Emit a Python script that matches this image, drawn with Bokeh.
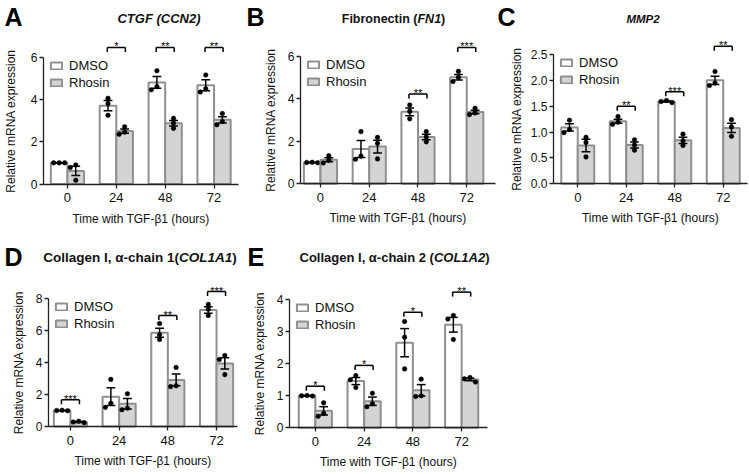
import numpy as np
from bokeh.plotting import figure
from bokeh.models import Range1d, FixedTicker, Label, Legend, LegendItem
from bokeh.layouts import row, column
from bokeh.embed import file_html
from bokeh.resources import INLINE
from bokeh.core.properties import value

# ---------------- data ----------------
hours = ["0", "24", "48", "72"]
x_label = "Time with TGF-β1 (hours)"
y_label = "Relative mRNA expression"
group_names = ["DMSO", "Rhosin"]

# A  CTGF (CCN2)
ctgf_title = [("CTGF (CCN2)", True)]
ctgf_yticks = [0, 2, 4, 6]
ctgf_ylabels = ["0", "2", "4", "6"]
ctgf_dmso_mean = [1.0, 3.7, 4.8, 4.67]
ctgf_dmso_sem = [0.0, 0.24, 0.28, 0.26]
ctgf_dmso_pts = [[1.0, 1.0, 1.0], [4.05, 3.8, 3.25], [5.35, 4.6, 4.45], [5.15, 4.5, 4.35]]
ctgf_rhosin_mean = [0.62, 2.5, 2.87, 3.03]
ctgf_rhosin_sem = [0.22, 0.1, 0.13, 0.15]
ctgf_rhosin_pts = [[0.9, 0.78, 0.18], [2.7, 2.45, 2.35], [3.1, 2.88, 2.63], [3.33, 2.95, 2.8]]
ctgf_sig_idx = [1, 2, 3]
ctgf_sig_txt = ["*", "**", "**"]
ctgf_sig_y = [6.45, 6.45, 6.45]

# B  Fibronectin (FN1)
fn1_title = [("Fibronectin (", False), ("FN1", True), (")", False)]
fn1_yticks = [0, 2, 4, 6]
fn1_ylabels = ["0", "2", "4", "6"]
fn1_dmso_mean = [1.0, 1.63, 3.38, 5.0]
fn1_dmso_sem = [0.01, 0.4, 0.18, 0.13]
fn1_dmso_pts = [[1.01, 1.0, 0.99], [2.45, 1.3, 1.15], [3.7, 3.4, 3.05], [5.28, 5.0, 4.8]]
fn1_rhosin_mean = [1.13, 1.75, 2.2, 3.37]
fn1_rhosin_sem = [0.09, 0.3, 0.13, 0.08]
fn1_rhosin_pts = [[1.32, 1.1, 0.98], [2.18, 1.9, 1.17], [2.45, 2.2, 1.97], [3.55, 3.33, 3.25]]
fn1_sig_idx = [2, 3]
fn1_sig_txt = ["**", "***"]
fn1_sig_y = [4.22, 6.4]

# C  MMP2
mmp2_title = [("MMP2", True)]
mmp2_yticks = [0, 0.5, 1.0, 1.5, 2.0, 2.5]
mmp2_ylabels = ["0.0", "0.5", "1.0", "1.5", "2.0", "2.5"]
mmp2_dmso_mean = [1.09, 1.21, 1.59, 2.0]
mmp2_dmso_sem = [0.07, 0.04, 0.01, 0.08]
mmp2_dmso_pts = [[1.23, 1.05, 0.99], [1.3, 1.19, 1.15], [1.61, 1.59, 1.57], [2.17, 1.95, 1.9]]
mmp2_rhosin_mean = [0.74, 0.75, 0.84, 1.08]
mmp2_rhosin_sem = [0.12, 0.06, 0.06, 0.09]
mmp2_rhosin_pts = [[0.9, 0.8, 0.52], [0.85, 0.75, 0.65], [0.96, 0.83, 0.74], [1.24, 1.1, 0.92]]
mmp2_sig_idx = [1, 2, 3]
mmp2_sig_txt = ["**", "***", "**"]
mmp2_sig_y = [1.5, 1.78, 2.66]

# D  Collagen I, alpha-chain 1 (COL1A1)
col1a1_title = [("Collagen I, α-chain 1(", False), ("COL1A1", True), (")", False)]
col1a1_yticks = [0, 2, 4, 6, 8]
col1a1_ylabels = ["0", "2", "4", "6", "8"]
col1a1_dmso_mean = [1.0, 1.87, 5.87, 7.3]
col1a1_dmso_sem = [0.01, 0.55, 0.28, 0.2]
col1a1_dmso_pts = [[1.02, 1.0, 0.99], [2.95, 1.45, 1.2], [6.45, 5.75, 5.45], [7.65, 7.35, 6.95]]
col1a1_rhosin_mean = [0.28, 1.42, 2.92, 3.95]
col1a1_rhosin_sem = [0.03, 0.33, 0.37, 0.35]
col1a1_rhosin_pts = [[0.33, 0.28, 0.24], [2.05, 1.15, 1.05], [3.7, 2.55, 2.5], [4.45, 4.2, 3.25]]
col1a1_sig_idx = [0, 2, 3]
col1a1_sig_txt = ["***", "**", "***"]
col1a1_sig_y = [1.68, 6.95, 8.45]

# E  Collagen I, alpha-chain 2 (COL1A2)
col1a2_title = [("Collagen I, α-chain 2 (", False), ("COL1A2", True), (")", False)]
col1a2_yticks = [0, 1, 2, 3, 4]
col1a2_ylabels = ["0", "1", "2", "3", "4"]
col1a2_dmso_mean = [1.0, 1.46, 2.66, 3.22]
col1a2_dmso_sem = [0.01, 0.11, 0.44, 0.23]
col1a2_dmso_pts = [[1.01, 1.0, 0.99], [1.63, 1.5, 1.26], [3.32, 2.83, 1.84], [3.51, 3.4, 2.76]]
col1a2_rhosin_mean = [0.53, 0.83, 1.17, 1.51]
col1a2_rhosin_sem = [0.13, 0.13, 0.18, 0.04]
col1a2_rhosin_pts = [[0.78, 0.45, 0.36], [1.08, 0.75, 0.66], [1.52, 1.0, 0.98], [1.57, 1.53, 1.43]]
col1a2_sig_idx = [0, 1, 2, 3]
col1a2_sig_txt = ["*", "*", "*", "**"]
col1a2_sig_y = [1.3, 1.95, 3.61, 4.24]

# ---------------- styling / layout ----------------
FONT = "Liberation Sans"
BAR_LINE = "#8f8f8f"
RHOSIN_FILL = "#d4d4d4"
AXIS_COL = "#222222"
TXT = "#111111"
BAR_W = 0.34

BOLD_EM = {
    'A': .722, 'B': .722, 'C': .722, 'D': .722, 'E': .667, 'F': .611, 'G': .778, 'I': .278,
    'L': .611, 'M': .833, 'N': .722, 'O': .778, 'P': .667, 'T': .611,
    'a': .556, 'b': .611, 'c': .556, 'e': .556, 'g': .611, 'h': .611, 'i': .278, 'l': .278,
    'n': .611, 'o': .611, 'r': .389, 't': .333, ' ': .278, ',': .278, '-': .333, '(': .333,
    ')': .333, '1': .556, '2': .556, 'α': .611,
}


def text_em(t):
    return sum(BOLD_EM.get(ch, 0.6) for ch in t)


def make_panel(letter, title, title_size, title_cx, title_y, letter_x, letter_y,
               W, H, L, R, Yp, Bp, xr, yticks, ylabels, ylab_standoff,
               d_mean, d_sem, d_pts, r_mean, r_sem, r_pts, sig_idx, sig_txt, sig_y):
    ymax = yticks[-1]
    px_per_x = (R - L) / (xr[1] - xr[0])
    px_per_y = (Bp - Yp) / ymax
    x_start = xr[0] - L / px_per_x
    x_end = xr[1] + (W - R) / px_per_x
    y_start = -(H - Bp) / px_per_y
    y_end = Bp / px_per_y
    p = figure(width=W, height=H, output_backend="svg", toolbar_location=None, title=None,
               x_range=Range1d(x_start, x_end), y_range=Range1d(y_start, y_end),
               min_border_left=0, min_border_right=0, min_border_top=0, min_border_bottom=0)
    p.grid.visible = False
    p.outline_line_color = None
    p.background_fill_color = "white"
    p.border_fill_color = "white"

    # axes pinned to the data origin
    xa, ya = p.xaxis[0], p.yaxis[0]
    xa.fixed_location = 0
    ya.fixed_location = xr[0]
    for ax in (xa, ya):
        ax.axis_line_color = AXIS_COL
        ax.axis_line_width = 1.3
        ax.major_tick_line_color = AXIS_COL
        ax.major_tick_line_width = 1.3
        ax.major_tick_out = 4
        ax.major_tick_in = 0
        ax.minor_tick_line_color = None
        ax.major_label_text_font = FONT
        ax.major_label_text_color = TXT
        ax.axis_label_text_font = FONT
        ax.axis_label_text_font_style = "normal"
        ax.axis_label_text_color = TXT
    xa.ticker = FixedTicker(ticks=list(range(len(hours))))
    xa.major_label_overrides = {i: h for i, h in enumerate(hours)}
    xa.major_label_text_font_size = "13px"
    xa.major_label_standoff = 5
    xa.bounds = (xr[0], xr[1])
    xa.axis_label = x_label
    xa.axis_label_text_font_size = "12px"
    xa.axis_label_standoff = 6
    ya.ticker = FixedTicker(ticks=yticks)
    ya.major_label_overrides = {v: s for v, s in zip(yticks, ylabels)}
    ya.major_label_text_font_size = "12px"
    ya.major_label_standoff = 2
    ya.bounds = (0, ymax)
    ya.axis_label = y_label
    ya.axis_label_text_font_size = "12px"
    ya.axis_label_standoff = ylab_standoff

    xs = np.arange(len(hours), dtype=float)
    renderers = []
    for k, (mean, sem, pts, fill) in enumerate([(d_mean, d_sem, d_pts, "white"),
                                                 (r_mean, r_sem, r_pts, RHOSIN_FILL)]):
        cx = xs + (k - 0.5) * BAR_W
        rb = p.vbar(x=cx, width=BAR_W, top=mean, bottom=0, fill_color=fill,
                    line_color=BAR_LINE, line_width=2)
        renderers.append(rb)
        mean_a = np.array(mean)
        sem_a = np.array(sem)
        cap = 0.09
        p.segment(x0=cx, y0=mean_a - sem_a, x1=cx, y1=mean_a + sem_a,
                  line_color="black", line_width=1.5)
        p.segment(x0=cx - cap, y0=mean_a + sem_a, x1=cx + cap, y1=mean_a + sem_a,
                  line_color="black", line_width=1.5)
        p.segment(x0=cx - cap, y0=mean_a - sem_a, x1=cx + cap, y1=mean_a - sem_a,
                  line_color="black", line_width=1.5)
        # replicate points, spread sideways only where they would overlap
        px_list, py_list = [], []
        for g, vals in enumerate(pts):
            placed = []
            for v in vals:
                for off in (0, -5.5, 5.5, -11, 11):
                    ok = True
                    for (po, pv) in placed:
                        dx = off - po
                        dy = (v - pv) * px_per_y
                        if dx * dx + dy * dy < 4.6 ** 2:
                            ok = False
                            break
                    if ok:
                        placed.append((off, v))
                        break
            for (po, pv) in placed:
                px_list.append(cx[g] + po / px_per_x)
                py_list.append(pv)
        p.scatter(x=px_list, y=py_list, size=4.6, fill_color="black", line_color="black",
                  line_width=0.5)

    # significance brackets
    drop = 4.5 / px_per_y
    half = 0.185
    bx0, by0, bx1, by1 = [], [], [], []
    for g, yv in zip(sig_idx, sig_y):
        bx0 += [g - half, g - half, g + half]
        by0 += [yv, yv - drop, yv - drop]
        bx1 += [g + half, g - half, g + half]
        by1 += [yv, yv, yv]
    p.segment(x0=bx0, y0=by0, x1=bx1, y1=by1, line_color="black", line_width=1.5)
    p.text(x=[float(g) for g in sig_idx], y=[yv + 1.0 / px_per_y for yv in sig_y],
           text=sig_txt, text_align="center", text_baseline="alphabetic",
           text_font=value(FONT), text_font_size=value("11px"), text_color="black")

    # legend
    legend = Legend(items=[LegendItem(label=group_names[0], renderers=[renderers[0]]),
                           LegendItem(label=group_names[1], renderers=[renderers[1]])],
                    location=(L + 6, H - (Yp + 3) - 30), glyph_width=14, glyph_height=9,
                    label_text_font=FONT, label_text_font_size="13px",
                    label_text_color=TXT, label_height=14, label_standoff=6,
                    spacing=2, padding=0, margin=0, border_line_color=None,
                    background_fill_alpha=0)
    p.add_layout(legend)

    # title pieces
    widths = [text_em(t) * title_size for t, _ in title]
    x = title_cx - sum(widths) / 2
    for (t, it), w in zip(title, widths):
        p.add_layout(Label(x=x, y=H - title_y, x_units="screen", y_units="screen",
                           text=t, text_font=FONT,
                           text_font_style="bold italic" if it else "bold",
                           text_font_size=f"{title_size}px", text_color=TXT,
                           text_baseline="middle", text_align="left"))
        x += w
    # panel letter
    p.add_layout(Label(x=letter_x, y=H - letter_y, x_units="screen", y_units="screen",
                       text=letter, text_font=FONT, text_font_style="bold",
                       text_font_size="25px", text_color="black",
                       text_baseline="middle", text_align="left"))
    return p


pA = make_panel("A", ctgf_title, 13, 158.5, 18, 4, 16,
                246, 240, 43, 238, 56.5, 183.5, (-0.49, 3.5), ctgf_yticks, ctgf_ylabels, 10,
                ctgf_dmso_mean, ctgf_dmso_sem, ctgf_dmso_pts,
                ctgf_rhosin_mean, ctgf_rhosin_sem, ctgf_rhosin_pts,
                ctgf_sig_idx, ctgf_sig_txt, ctgf_sig_y)
pB = make_panel("B", fn1_title, 12.5, 147, 18, 0, 16,
                250, 240, 54, 249, 55.5, 183.3, (-0.41, 3.59), fn1_yticks, fn1_ylabels, 7,
                fn1_dmso_mean, fn1_dmso_sem, fn1_dmso_pts,
                fn1_rhosin_mean, fn1_rhosin_sem, fn1_rhosin_pts,
                fn1_sig_idx, fn1_sig_txt, fn1_sig_y)
pC = make_panel("C", mmp2_title, 11.5, 146.5, 18, 1, 16,
                253, 240, 57, 251, 54, 183.3, (-0.5, 3.5), mmp2_yticks, mmp2_ylabels, 4,
                mmp2_dmso_mean, mmp2_dmso_sem, mmp2_dmso_pts,
                mmp2_rhosin_mean, mmp2_rhosin_sem, mmp2_rhosin_pts,
                mmp2_sig_idx, mmp2_sig_txt, mmp2_sig_y)
pD = make_panel("D", col1a1_title, 13.5, 139.5, 16.7, 4, 16.5,
                247, 234, 48, 237, 58.3, 186, (-0.45, 3.43), col1a1_yticks, col1a1_ylabels, 7,
                col1a1_dmso_mean, col1a1_dmso_sem, col1a1_dmso_pts,
                col1a1_rhosin_mean, col1a1_rhosin_sem, col1a1_rhosin_pts,
                col1a1_sig_idx, col1a1_sig_txt, col1a1_sig_y)
pE = make_panel("E", col1a2_title, 13, 147, 16.7, 0, 16.5,
                250, 234, 42, 240, 59.3, 187.3, (-0.53, 3.53), col1a2_yticks, col1a2_ylabels, 7,
                col1a2_dmso_mean, col1a2_dmso_sem, col1a2_dmso_pts,
                col1a2_rhosin_mean, col1a2_rhosin_sem, col1a2_rhosin_pts,
                col1a2_sig_idx, col1a2_sig_txt, col1a2_sig_y)

layout = column(row(pA, pB, pC), row(pD, pE))
open("out.html", "w").write(file_html(layout, INLINE))
